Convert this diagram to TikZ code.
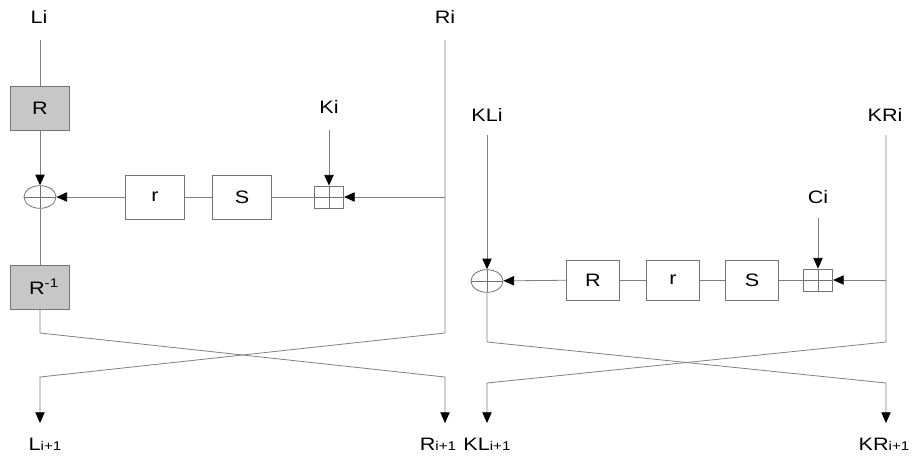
\documentclass[tikz,border=0pt]{standalone}
\usepackage{fontspec}
\setmainfont[FakeStretch=1.2]{Liberation Sans}
\usetikzlibrary{arrows.meta,shapes.geometric,positioning}

\newcommand{\smidx}[1]{{\fontsize{9.5}{11}\selectfont #1}}

\begin{document}
\begin{tikzpicture}[
    x=0.75pt, y=-0.75pt,
    font=\fontsize{13.5}{15}\selectfont,
    ln/.style={draw=black!50, line width=0.6pt},
    arr/.style={ln, -{Triangle[length=8pt, width=7pt, color=black]}},
    blk/.style={draw=black!55, line width=0.6pt, minimum width=44pt, minimum height=33pt, inner sep=0pt},
    gblk/.style={blk, fill=black!22},
    sblk/.style={blk, minimum width=40pt, minimum height=30pt},
    crs/.style={path picture={\draw[black!55, line width=0.6pt] (path picture bounding box.north) -- (path picture bounding box.south) (path picture bounding box.west) -- (path picture bounding box.east);}},
    xr/.style={ellipse, draw=black!55, line width=0.6pt, minimum width=24pt, minimum height=17pt, inner sep=0pt, crs},
    add/.style={rectangle, draw=black!55, line width=0.6pt, minimum width=22pt, minimum height=16.5pt, inner sep=0pt, crs},
    lbl/.style={inner sep=1pt}
]
\useasboundingbox (0,0) rectangle (914,455);

% left half
\node[lbl] (Li) at (39,17) {Li};
\node[lbl] (Ri) at (445,17) {Ri};
\coordinate (li0) at (40,40);
\coordinate (ri0) at (445,40);
\node[gblk] (R1) at (40,108) {R};
\node[xr] (x1) at (40,197) {};
\node[blk] (r1) at (155,197) {r};
\node[blk] (S1) at (242,197) {S};
\node[add] (a1) at (329,197) {};
\node[lbl] (Ki) at (329,107) {Ki};
\coordinate (ki0) at (329,130);
\coordinate (rk) at (445,197);
\node[gblk] (Rinv) at (40,287) {\hspace{6pt}R\textsuperscript{-1}};
\coordinate (lb) at (40,333);
\coordinate (rb) at (445,333);
\coordinate (lc) at (40,377);
\coordinate (rc) at (445,377);
\coordinate (lo) at (40,423);
\coordinate (ro) at (445,423);
\node[lbl] (Lout) at (45,444) {L\smidx{i+1}};
\node[lbl] (Rout) at (438,444) {R\smidx{i+1}};

\draw[ln] (li0) -- (R1);
\draw[arr] (R1) -- (x1);
\draw[ln] (x1) -- (Rinv);
\draw[arr] (Rinv) -- (lb) -- (rc) -- (ro);
\draw[arr] (ri0) -- (rb) -- (lc) -- (lo);
\draw[arr] (ki0) -- (a1);
\draw[arr] (rk) -- (a1);
\draw[ln] (a1) -- (S1);
\draw[ln] (S1) -- (r1);
\draw[arr] (r1) -- (x1);

% right half
\node[lbl] (KLi) at (487,115) {KLi};
\node[lbl] (KRi) at (885,115) {KRi};
\coordinate (kl0) at (487,135);
\coordinate (kr0) at (886,135);
\node[xr] (x2) at (487,281) {};
\node[sblk] (R2) at (593,280) {R};
\node[sblk] (r2) at (673,280) {r};
\node[sblk] (S2) at (752,280) {S};
\node[add] (a2) at (818,280) {};
\node[lbl] (Ci) at (818,197) {Ci};
\coordinate (ci0) at (818,218);
\coordinate (kr1) at (886,280);
\coordinate (klb) at (487,342);
\coordinate (krb) at (886,342);
\coordinate (klc) at (487,383);
\coordinate (krc) at (886,383);
\coordinate (klo) at (487,423);
\coordinate (kro) at (886,423);
\node[lbl] (KLout) at (487,444) {KL\smidx{i+1}};
\node[lbl] (KRout) at (884,444) {KR\smidx{i+1}};

\draw[arr] (kl0) -- (x2);
\draw[arr] (x2) -- (klb) -- (krc) -- (kro);
\draw[arr] (kr0) -- (krb) -- (klc) -- (klo);
\draw[arr] (ci0) -- (a2);
\draw[arr] (kr1) -- (a2);
\draw[ln] (a2) -- (S2);
\draw[ln] (S2) -- (r2);
\draw[ln] (r2) -- (R2);
\draw[arr] (R2) -- (x2);
\end{tikzpicture}
\end{document}
